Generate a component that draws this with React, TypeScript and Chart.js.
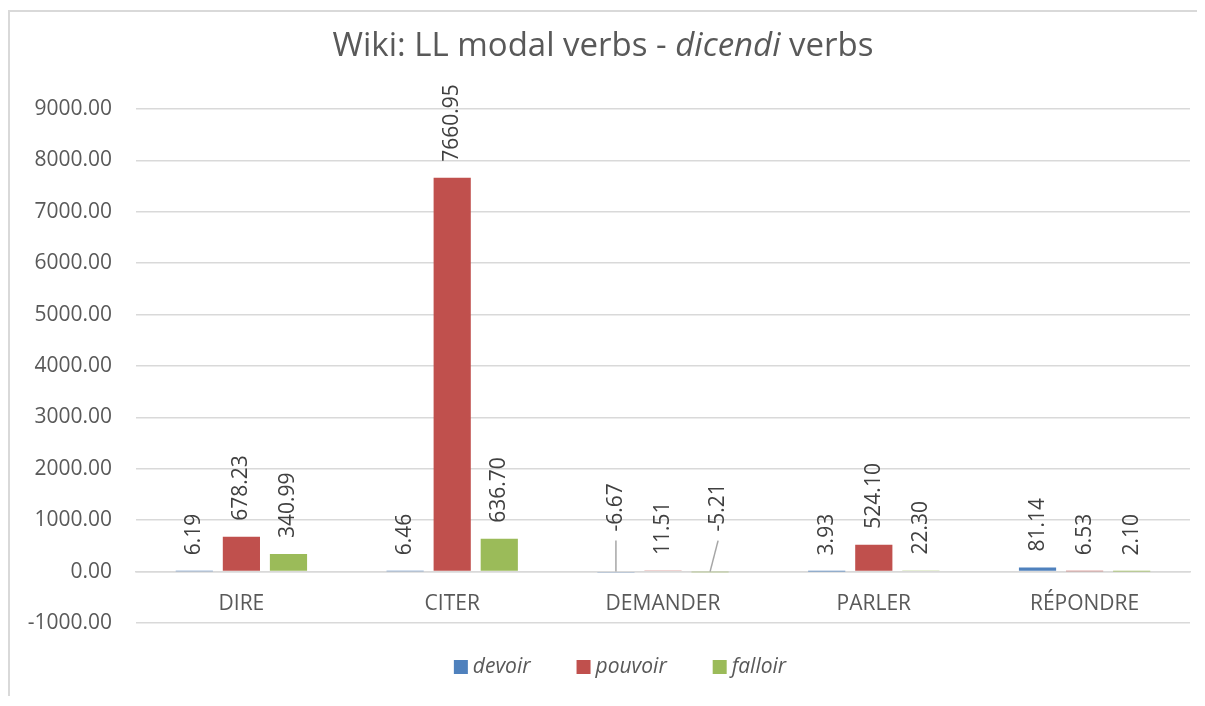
import React, { useEffect, useRef } from "react";
import { Chart, registerables } from "chart.js";

Chart.register(...registerables);

const categories = ["DIRE", "CITER", "DEMANDER", "PARLER", "RÉPONDRE"];
const seriesNames = ["devoir", "pouvoir", "falloir"];
const devoir = [6.19, 6.46, -6.67, 3.93, 81.14];
const pouvoir = [678.23, 7660.95, 11.51, 524.1, 6.53];
const falloir = [340.99, 636.7, -5.21, 22.3, 2.1];
const yMin = -1000;
const yMax = 9000;
const yStep = 1000;
const titleParts = [
  { text: "Wiki: LL modal verbs - ", italic: false },
  { text: "dicendi", italic: true },
  { text: " verbs", italic: false },
];
const seriesColors = ["#4F81BD", "#C0504D", "#9BBB59"];

const FONT = "'Open Sans', sans-serif";

const decorPlugin = {
  id: "decor",
  afterDatasetsDraw(chart: any) {
    const ctx = chart.ctx;
    const zero = chart.scales.y.getPixelForValue(0);
    ctx.save();
    ctx.font = `21px ${FONT}`;
    ctx.fillStyle = "#404040";
    chart.data.datasets.forEach((ds: any, di: number) => {
      const meta = chart.getDatasetMeta(di);
      meta.data.forEach((bar: any, i: number) => {
        const v = ds.data[i] as number;
        const text = v.toFixed(2);
        let x = bar.x;
        let yb: number;
        if (v >= 0) {
          yb = bar.y - 16;
        } else {
          const shift = di === 2 ? 8 : 0;
          yb = zero - 40;
          ctx.save();
          ctx.strokeStyle = "#a6a6a6";
          ctx.lineWidth = 1.5;
          ctx.beginPath();
          ctx.moveTo(bar.x + shift, zero - 31);
          ctx.lineTo(bar.x, zero);
          ctx.stroke();
          ctx.restore();
          x += shift;
        }
        ctx.save();
        ctx.translate(x, yb);
        ctx.rotate(-Math.PI / 2);
        ctx.textAlign = "left";
        ctx.textBaseline = "middle";
        ctx.fillText(text, 0, 0);
        ctx.restore();
      });
    });
    ctx.restore();
  },
  afterDraw(chart: any) {
    const ctx = chart.ctx;
    ctx.save();
    // Title
    const tSize = 33;
    ctx.fillStyle = "#595959";
    ctx.textBaseline = "middle";
    ctx.textAlign = "left";
    const widths = titleParts.map((p) => {
      ctx.font = `${p.italic ? "italic " : ""}${tSize}px ${FONT}`;
      return ctx.measureText(p.text).width;
    });
    const total = widths.reduce((a, b) => a + b, 0);
    let tx = 593 - total / 2;
    titleParts.forEach((p, i) => {
      ctx.font = `${p.italic ? "italic " : ""}${tSize}px ${FONT}`;
      ctx.fillText(p.text, tx, 35);
      tx += widths[i];
    });
    // Legend
    ctx.font = `italic 21px ${FONT}`;
    const box = 14;
    const gapText = 5;
    const gapItem = 46;
    const items = chart.data.datasets.map((ds: any) => ({
      label: ds.label,
      color: ds.backgroundColor,
      w: box + gapText + ctx.measureText(ds.label).width,
    }));
    const lw = items.reduce((a: number, it: any) => a + it.w, 0) + gapItem * (items.length - 1);
    let lx = 610 - lw / 2;
    const ly = 655;
    items.forEach((it: any) => {
      ctx.fillStyle = it.color;
      ctx.fillRect(lx, ly - box / 2, box, box);
      ctx.fillStyle = "#595959";
      ctx.fillText(it.label, lx + box + gapText, ly);
      lx += it.w + gapItem;
    });
    ctx.restore();
  },
};

export default function App() {
  const canvasRef = useRef<HTMLCanvasElement | null>(null);

  useEffect(() => {
    document.documentElement.style.overflow = "hidden";
    document.body.style.overflow = "hidden";
    const canvas = canvasRef.current;
    if (!canvas) return;
    const seriesData = [devoir, pouvoir, falloir];
    const chart = new Chart(canvas, {
      type: "bar",
      data: {
        labels: categories,
        datasets: seriesNames.map((name, i) => ({
          label: name,
          data: seriesData[i],
          backgroundColor: seriesColors[i],
          borderWidth: 0,
          categoryPercentage: 0.67,
          barPercentage: 0.79,
        })),
      },
      options: {
        animation: false,
        responsive: true,
        maintainAspectRatio: false,
        layout: { padding: { top: 97, bottom: 73, left: 0, right: 20 } },
        plugins: {
          legend: { display: false },
          title: { display: false },
          tooltip: { enabled: false },
        },
        scales: {
          x: {
            position: { y: 0 } as any,
            grid: { display: false, drawTicks: false },
            border: { display: true, color: "#d9d9d9", width: 1.5 },
            ticks: {
              color: "#595959",
              font: { family: FONT, size: 21 },
              padding: 20,
              maxRotation: 0,
              autoSkip: false,
            },
          },
          y: {
            min: yMin,
            max: yMax,
            afterFit: (s: any) => {
              s.width = 126;
            },
            grid: { color: "#d9d9d9", lineWidth: 1.5, drawTicks: false },
            border: { display: false },
            ticks: {
              stepSize: yStep,
              color: "#595959",
              font: { family: FONT, size: 21 },
              padding: 24,
              callback: (v: any) => Number(v).toFixed(2),
            },
          },
        },
      },
      plugins: [decorPlugin],
    });
    return () => chart.destroy();
  }, []);

  return (
    <div style={{ paddingTop: 2 }}>
      <div
        style={{
          position: "relative",
          width: 1200,
          height: 684,
          borderTop: "2px solid #d9d9d9",
          borderLeft: "2px solid #d9d9d9",
          background: "#fff",
        }}
      >
        <canvas ref={canvasRef} />
      </div>
    </div>
  );
}
